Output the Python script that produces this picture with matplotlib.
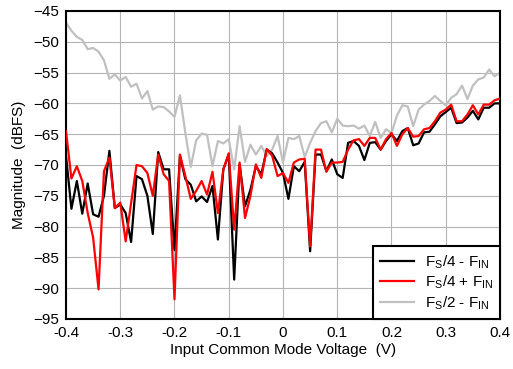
import numpy as np
import matplotlib
matplotlib.use('Agg')
import matplotlib.pyplot as plt

plt.rcParams['font.family'] = ['Liberation Sans', 'DejaVu Sans']

# input common mode voltage, -0.4 .. 0.4 in 0.01 V steps
vcm = [round(-0.4 + 0.01 * i, 2) for i in range(81)]

fs4_minus = [
    -68.5, -77.1, -72.6, -77.9, -73.0, -78.0, -78.4, -75.0, -67.7, -77.0,
    -76.4, -77.8, -82.5, -71.8, -72.3, -75.0, -81.2, -67.9, -70.7, -70.7,
    -83.8, -68.5, -72.3, -73.2, -75.9, -75.1, -76.0, -73.4, -82.1, -70.7,
    -68.3, -88.6, -69.9, -76.7, -74.0, -70.2, -71.5, -67.5, -68.1, -69.6,
    -71.3, -75.5, -70.2, -71.0, -69.5, -84.0, -68.3, -68.3, -71.0, -69.1,
    -71.5, -72.1, -66.4, -66.1, -66.9, -69.2, -66.4, -66.3, -67.5, -66.1,
    -65.0, -66.1, -64.5, -64.0, -66.8, -66.5, -64.7, -64.6, -63.4, -62.1,
    -61.4, -60.7, -63.2, -63.1, -62.3, -61.2, -62.6, -60.7, -60.7, -60.0,
    -60.0,
]

fs4_plus = [
    -64.5, -72.2, -70.2, -72.6, -77.8, -81.8, -90.2, -71.0, -68.8, -77.0,
    -76.1, -82.4, -76.2, -70.0, -70.2, -71.3, -75.0, -68.3, -71.5, -72.6,
    -91.8, -68.3, -71.8, -75.5, -74.2, -72.6, -74.8, -71.1, -77.8, -70.7,
    -68.1, -80.5, -69.6, -78.6, -75.0, -69.9, -72.1, -67.4, -68.5, -71.8,
    -71.3, -72.9, -69.6, -69.1, -69.0, -83.2, -67.5, -67.5, -71.1, -69.6,
    -69.6, -69.5, -67.5, -66.0, -65.8, -66.9, -65.6, -65.6, -67.5, -65.8,
    -64.8, -66.9, -65.0, -64.0, -65.4, -65.3, -64.2, -64.0, -62.9, -61.5,
    -61.0, -60.2, -62.9, -62.9, -61.8, -60.3, -61.8, -60.2, -60.2, -59.5,
    -59.2,
]

fs2_minus = [
    -46.9, -48.2, -49.2, -49.7, -51.2, -51.0, -51.6, -53.0, -56.0, -55.3,
    -56.3, -55.7, -57.3, -56.8, -59.2, -58.0, -61.0, -60.5, -60.6, -61.3,
    -62.2, -58.7, -64.8, -70.3, -66.0, -64.9, -65.1, -70.2, -66.1, -66.5,
    -65.8, -70.7, -63.7, -69.5, -66.7, -68.3, -66.9, -68.5, -67.5, -65.3,
    -69.6, -65.6, -65.8, -65.3, -68.7, -66.4, -64.5, -63.2, -62.9, -64.7,
    -62.5, -63.6, -63.7, -63.6, -64.1, -63.6, -65.3, -63.0, -65.6, -64.2,
    -64.8, -62.0, -60.3, -60.5, -63.7, -61.0, -60.2, -59.6, -58.8, -59.6,
    -60.3, -59.1, -58.5, -57.1, -59.3, -57.1, -56.1, -55.8, -54.5, -55.6,
    -55.0,
]

fig = plt.figure(figsize=(5.13, 3.69), dpi=100)
ax = fig.add_axes([66 / 513, 1 - 319 / 369, 434 / 513, 308 / 369])

ax.plot(vcm, fs2_minus, color='#c0c0c0', lw=1.6, label='F$_\\mathregular{S}$/2 - F$_\\mathregular{IN}$', zorder=2)
ax.plot(vcm, fs4_minus, color='black', lw=1.6, label='F$_\\mathregular{S}$/4 - F$_\\mathregular{IN}$', zorder=3)
ax.plot(vcm, fs4_plus, color='#ff0000', lw=1.6, label='F$_\\mathregular{S}$/4 + F$_\\mathregular{IN}$', zorder=4)

ax.set_xlim(-0.4, 0.4)
ax.set_ylim(-95, -45)
ax.set_xticks(np.arange(-0.4, 0.41, 0.1))
ax.set_xticklabels(['-0.4', '-0.3', '-0.2', '-0.1', '0', '0.1', '0.2', '0.3', '0.4'])
ax.set_yticks(np.arange(-95, -44, 5))
ax.tick_params(length=0, labelsize=11, pad=5)
ax.grid(True, color='#b4b4b4', lw=0.8)
ax.set_axisbelow(True)
for s in ax.spines.values():
    s.set_linewidth(1.5)

ax.set_xlabel('Input Common Mode Voltage  (V)', fontsize=11, labelpad=2)
ax.set_ylabel('Magnitude  (dBFS)', fontsize=11, labelpad=5)

h, l = ax.get_legend_handles_labels()
order = [1, 2, 0]
leg = ax.legend([h[i] for i in order], [l[i] for i in order], loc='lower right',
                fontsize=11, fancybox=False, framealpha=1, edgecolor='black',
                borderaxespad=0, handlelength=2.2, borderpad=0.45, labelspacing=0.2,
                handletextpad=0.7)
leg.get_frame().set_linewidth(1.5)

fig.savefig('out.png', dpi=100)
